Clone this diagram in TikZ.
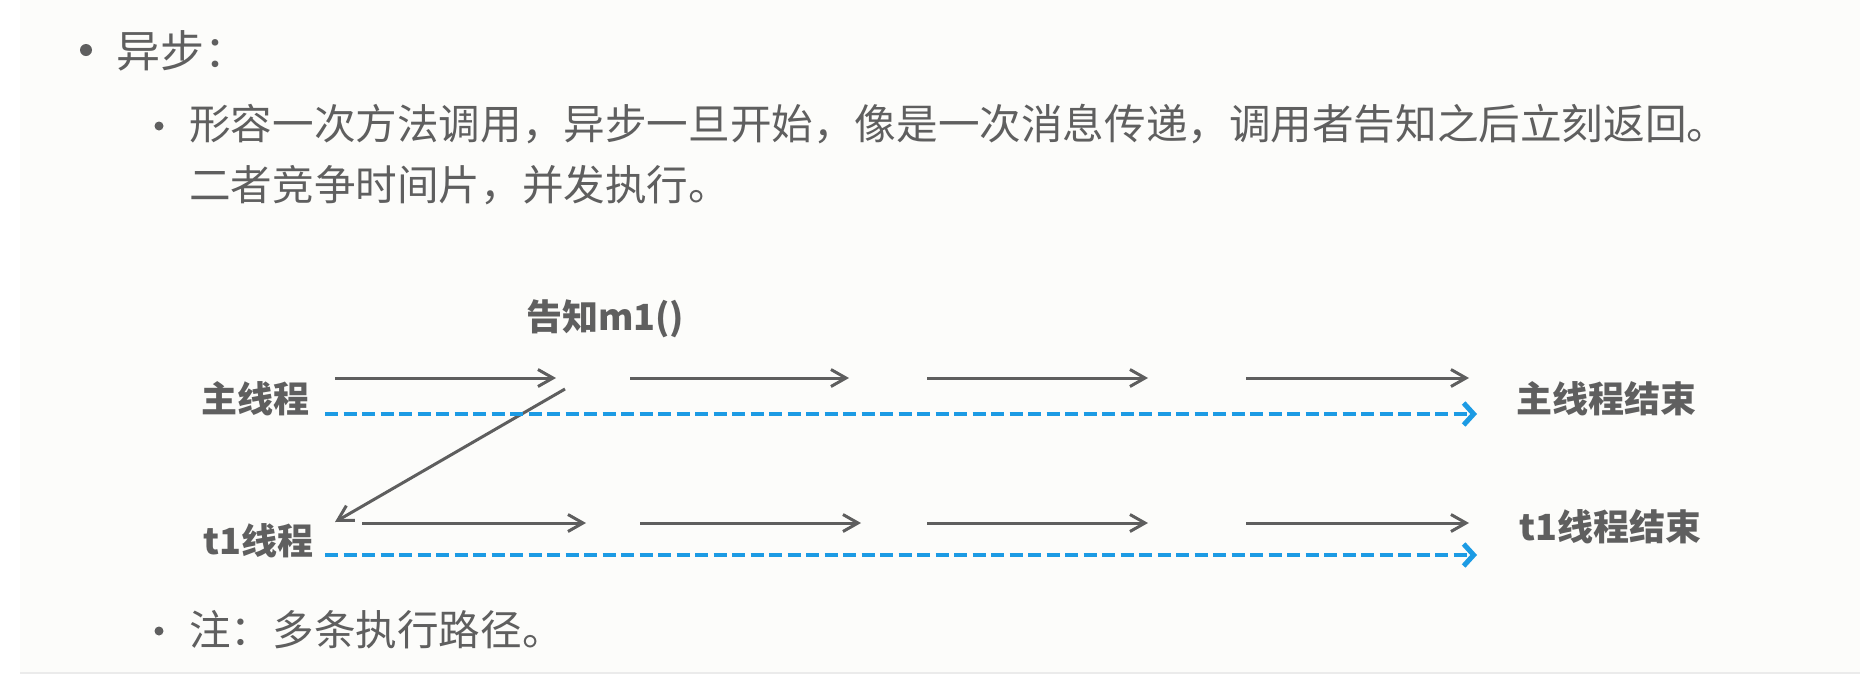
\documentclass[tikz,border=0pt]{standalone}
\usepackage{fontspec}
\newfontfamily\cjk{Noto Sans CJK SC}
\usetikzlibrary{arrows.meta}
\definecolor{txtgray}{HTML}{5F5F5F}
\definecolor{linegray}{HTML}{5E5E5E}
\definecolor{dashblue}{HTML}{1C9BE4}
\definecolor{panel}{HTML}{FCFCFA}
\definecolor{panelrule}{HTML}{EBEBEB}
\tikzset{
  body/.style={anchor=west, inner sep=0pt, text=txtgray, font=\cjk\fontsize{41.6}{50}\selectfont},
  thread/.style={anchor=west, inner sep=0pt, text=txtgray, font=\cjk\bfseries\fontsize{36}{42}\selectfont},
  flow/.style={draw=linegray, line width=3pt, -{Straight Barb[length=15pt,width=17pt,line width=3pt]}},
  timeline/.style={draw=dashblue, line width=3.5pt, dash pattern=on 13pt off 5.5pt,
    -{Straight Barb[length=10pt,width=22pt,line width=5pt]}},
}
\begin{document}
\begin{tikzpicture}[x=1pt,y=-1pt]
  \useasboundingbox (0,0) rectangle (1875,683);
  \fill[white] (0,0) rectangle (1875,683);
  \fill[panel] (20,0) rectangle (1860,673);
  \draw[panelrule, line width=1.5pt] (20,673) -- (1860,673);
  % text
  \fill[txtgray] (86,50) circle (6);
  \node[body, font=\cjk\fontsize{44}{52}\selectfont] (async) at (116,51) {异步：};
  \fill[txtgray] (159,126) circle (4.5);
  \node[body] (desc1) at (189,124) {形容一次方法调用，异步一旦开始，像是一次消息传递，调用者告知之后立刻返回。};
  \node[body] (desc2) at (189,185) {二者竞争时间片，并发执行。};
  \fill[txtgray] (159,631) circle (4.5);
  \node[body] (note) at (189,630) {注：多条执行路径。};
  % threads
  \node[thread] (notify) at (526,319) {告知m1()};
  \node[thread] (main) at (201,399) {主线程};
  \node[thread] (t1) at (203,541) {t1线程};
  \node[thread] (mainend) at (1516,399) {主线程结束};
  \node[thread] (t1end) at (1519,527) {t1线程结束};
  \foreach \i/\a/\b in {1/335/556, 2/630/849, 3/927/1148, 4/1246/1469} {
    \coordinate (m\i-s) at (\a,378);
    \coordinate (m\i-e) at (\b,378);
    \draw[flow] (m\i-s) -- (m\i-e);
  }
  \foreach \i/\a/\b in {1/362/586, 2/640/861, 3/927/1148, 4/1246/1469} {
    \coordinate (t\i-s) at (\a,523);
    \coordinate (t\i-e) at (\b,523);
    \draw[flow] (t\i-s) -- (t\i-e);
  }
  \coordinate (call-s) at (565,389);
  \coordinate (call-e) at (335,522);
  \draw[flow] (call-s) -- (call-e);
  \coordinate (main-s) at (325,414);
  \coordinate (main-e) at (1477,414);
  \coordinate (t1-s) at (325,555);
  \coordinate (t1-e) at (1477,555);
  \draw[timeline] (main-s) -- (main-e);
  \draw[timeline] (t1-s) -- (t1-e);
\end{tikzpicture}
\end{document}
